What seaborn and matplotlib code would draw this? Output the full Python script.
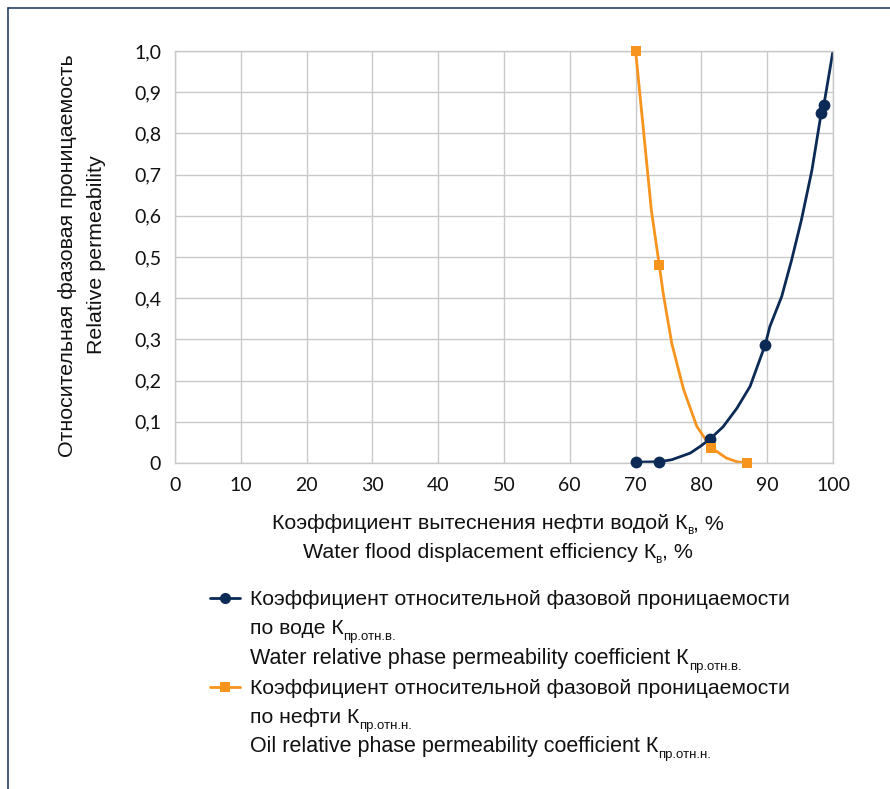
import matplotlib
matplotlib.use("Agg")
import matplotlib.pyplot as plt
import matplotlib.transforms as mtransforms
import matplotlib.font_manager as fm
from matplotlib.lines import Line2D
from matplotlib.ticker import FuncFormatter, MultipleLocator
import seaborn as sns

# curve traces (smoothed Excel lines)
water_curve_x = [70.0, 73.6, 75.5, 78.3, 79.8, 81.3, 83.3, 85.4, 87.4, 89.7, 90.4, 92.2, 93.7, 95.2, 96.8, 98.2, 98.6, 100.0]
water_curve_y = [0.002, 0.003, 0.008, 0.024, 0.040, 0.058, 0.088, 0.133, 0.186, 0.287, 0.331, 0.404, 0.492, 0.590, 0.711, 0.849, 0.868, 1.0]
oil_curve_x = [70.0, 71.2, 72.4, 73.6, 74.2, 75.5, 77.3, 79.3, 81.5, 83.8, 85.4, 87.0]
oil_curve_y = [1.0, 0.807, 0.613, 0.480, 0.411, 0.290, 0.178, 0.089, 0.037, 0.012, 0.003, 0.0]

# measured points (markers)
water_pts_x = [70.0, 73.6, 81.3, 89.7, 98.2, 98.6]
water_pts_y = [0.002, 0.003, 0.058, 0.287, 0.849, 0.868]
oil_pts_x = [70.0, 73.6, 81.5, 87.0]
oil_pts_y = [1.0, 0.480, 0.037, 0.0]

x_ticks = list(range(0, 101, 10))

NAVY = "#0b2a55"
ORANGE = "#f7941d"
GRID = "#c9c9c9"
TEXT = "#111111"
FRAME = "#2a3f66"

sns.set_theme(style="white")
names = {f.name for f in fm.fontManager.ttflist}
label_font = "Liberation Sans" if "Liberation Sans" in names else "DejaVu Sans"
tick_font = "Lato" if "Lato" in names else "DejaVu Sans"
plt.rcParams["font.family"] = [label_font, "DejaVu Sans"]

W, H = 890, 789
fig = plt.figure(figsize=(W / 100, H / 100), dpi=100)
ax = fig.add_axes([175 / W, 1 - 463 / H, 658 / W, 412 / H])

sns.lineplot(x=water_curve_x, y=water_curve_y, sort=False, estimator=None,
             color=NAVY, lw=2.0, ax=ax)
sns.scatterplot(x=water_pts_x, y=water_pts_y, color=NAVY, marker="o", s=72,
                edgecolor=NAVY, linewidth=0, ax=ax, zorder=3, clip_on=False)
sns.lineplot(x=oil_curve_x, y=oil_curve_y, sort=False, estimator=None,
             color=ORANGE, lw=2.0, ax=ax)
sns.scatterplot(x=oil_pts_x, y=oil_pts_y, color=ORANGE, marker="s", s=62,
                edgecolor=ORANGE, linewidth=0, ax=ax, zorder=4, clip_on=False)

ax.set_xlim(0, 100)
ax.set_ylim(0, 1)
ax.set_xticks(x_ticks)
ax.yaxis.set_major_locator(MultipleLocator(0.1))
ax.yaxis.set_major_formatter(FuncFormatter(
    lambda v, _: "0" if abs(v) < 1e-9 else f"{v:.1f}".replace(".", ",")))
ax.grid(True, color=GRID, lw=1.0)
for sp in ax.spines.values():
    sp.set_color(GRID)
    sp.set_linewidth(1.0)
ax.tick_params(axis="both", which="major", length=4, width=1, color=GRID,
               labelsize=14, labelcolor=TEXT, pad=6)
for lab in ax.get_xticklabels() + ax.get_yticklabels():
    lab.set_fontfamily(tick_font)
ax.set_xlabel("")
ax.set_ylabel("")

PX = mtransforms.IdentityTransform()
renderer = fig.canvas.get_renderer()


def put(x, y_top, s, size, **kw):
    return fig.text(x, H - y_top, s, fontsize=size, transform=PX,
                    va="baseline", color=TEXT, **kw)


def put_parts(x, y_top, parts, size, sub_size, sub_drop, ha="left", gap=0):
    arts = []
    cur = x
    for s, is_sub in parts:
        if is_sub:
            cur += gap
        t = put(cur, y_top + (sub_drop if is_sub else 0), s,
                sub_size if is_sub else size)
        cur += t.get_window_extent(renderer).width
        arts.append(t)
    if ha == "center":
        shift = (cur - x) / 2
        for t in arts:
            px, py = t.get_position()
            t.set_position((px - shift, py))
    return arts


LBL = 15.4
LEG = 15.2
LEG_LAT = 15.5
SUB = 9.5

# y axis title
fig.text(68, H - 256, "Относительная фазовая проницаемость", rotation=90,
         ha="center", va="center", fontsize=LBL, color=TEXT, transform=PX)
fig.text(97, H - 255, "Relative permeability", rotation=90,
         ha="center", va="center", fontsize=LBL, color=TEXT, transform=PX)

# x axis title
put_parts(498, 529, [("Коэффициент вытеснения нефти водой К", False),
                     ("в", True), (", %", False)], LBL, 8.5, 5, ha="center", gap=-1)
put_parts(498, 558, [("Water flood displacement efficiency К", False),
                     ("в", True), (", %", False)], LBL, 8.5, 5, ha="center", gap=-1)

# legend
leg_rows = [
    (605, NAVY, "o", LEG, [("Коэффициент относительной фазовой проницаемости", False)]),
    (634, None, None, LEG, [("по воде К", False), ("пр.отн.в.", True)]),
    (664, None, None, LEG_LAT, [("Water relative phase permeability coefficient К", False), ("пр.отн.в.", True)]),
    (694, ORANGE, "s", LEG, [("Коэффициент относительной фазовой проницаемости", False)]),
    (723, None, None, LEG, [("по нефти К", False), ("пр.отн.н.", True)]),
    (752, None, None, LEG_LAT, [("Oil relative phase permeability coefficient К", False), ("пр.отн.н.", True)]),
]
for base, col, mk, size, parts in leg_rows:
    put_parts(250, base, parts, size, SUB, 6, gap=0)
    if col is not None:
        yc = H - (base - 7)
        fig.add_artist(Line2D([210, 240], [yc, yc], color=col, lw=2.0,
                              transform=PX))
        fig.add_artist(Line2D([225], [yc], color=col, marker=mk,
                              markersize=8 if mk == "o" else 7.5,
                              markeredgewidth=0, transform=PX))

# outer frame (left and top edges)
fig.add_artist(Line2D([7.5, 7.5], [0, H - 7.5], color=FRAME, lw=1.2, transform=PX))
fig.add_artist(Line2D([7.5, W], [H - 7.5, H - 7.5], color=FRAME, lw=1.2, transform=PX))

fig.savefig("out.png", dpi=100)
